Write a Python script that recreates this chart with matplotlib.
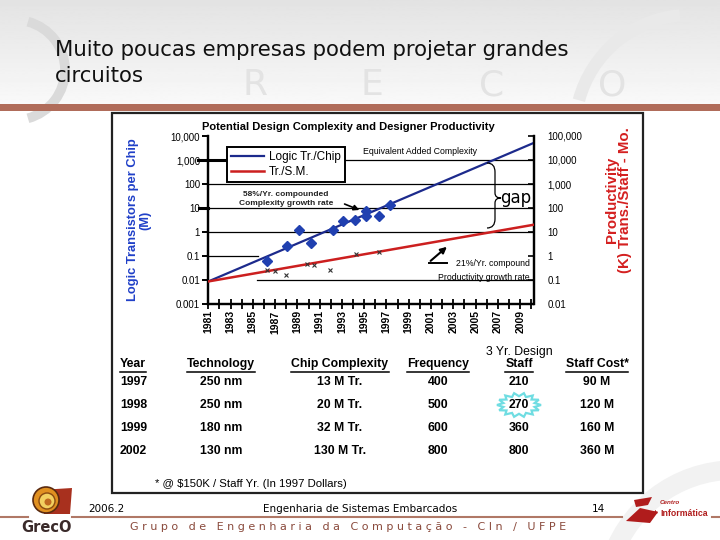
import numpy as np
import matplotlib
matplotlib.use('Agg')
import matplotlib.pyplot as plt
from matplotlib.patches import Rectangle, Polygon, PathPatch, Circle, Arc
from matplotlib.path import Path

plt.rcParams['font.family'] = ['Liberation Sans', 'DejaVu Sans']

# --- dados do grafico ---
anos_linha = [1981, 2010.2]
logic_tr_chip = [0.0087, 5100]     # M transistores por chip (eixo esquerdo)
prod_tr_sm = [0.087, 20]           # K trans./staff-mes (eixo direito)

anos_chips = [1986.3, 1988.1, 1989.1, 1990.2, 1992.2, 1993.1, 1994.2,
              1995.2, 1995.2, 1996.3, 1997.3]
tr_chips = [0.064, 0.26, 1.25, 0.35, 1.25, 2.8, 3.3, 7.2, 4.6, 4.6, 13.5]

anos_prod = [1986.3, 1987.0, 1988.0, 1989.9, 1990.5, 1991.9, 1994.25, 1996.3]
prod = [0.26, 0.24, 0.16, 0.48, 0.44, 0.27, 1.26, 1.47]

esq_ticks = [0.001, 0.01, 0.1, 1, 10, 100, 1000, 10000]
esq_labels = ['0.001', '0.01', '0.1', '1', '10', '100', '1,000', '10,000']
dir_ticks = [0.01, 0.1, 1, 10, 100, 1000, 10000, 100000]
dir_labels = ['0.01', '0.1', '1', '10', '100', '1,000', '10,000', '100,000']
anos_ticks = list(range(1981, 2011))
anos_labels = [str(a) if a % 2 == 1 else '' for a in anos_ticks]

# --- tabela ---
colunas = ['Year', 'Technology', 'Chip Complexity', 'Frequency', 'Staff', 'Staff Cost*']
tab_ano = ['1997', '1998', '1999', '2002']
tab_tec = ['250 nm', '250 nm', '180 nm', '130 nm']
tab_chip = ['13 M Tr.', '20 M Tr.', '32 M Tr.', '130 M Tr.']
tab_freq = ['400', '500', '600', '800']
tab_staff = ['210', '270', '360', '800']
tab_custo = ['90 M', '120 M', '160 M', '360 M']

AZUL = '#1c2a8c'
VERMELHO = '#cc1f1f'

fig = plt.figure(figsize=(7.2, 5.4), dpi=100)

# fundo do slide
bg = fig.add_axes([0, 0, 1, 1], zorder=0)
bg.set_xlim(0, 720)
bg.set_ylim(540, 0)
bg.axis('off')
grad = np.linspace(0.89, 0.975, 100).reshape(-1, 1)
bg.imshow(grad, extent=[0, 720, 104, 0], cmap='gray', vmin=0, vmax=1, aspect='auto')
bg.add_patch(Arc((15, 70), 100, 100, theta1=-75, theta2=75, color='#dadada', lw=7))
bg.add_patch(Arc((690, 130), 230, 230, theta1=195, theta2=265, color='#e9e9e9', lw=9))
bg.add_patch(Arc((735, 600), 260, 260, theta1=190, theta2=265, color='#f2f2f2', lw=14))
for letra, x in zip('RECO', [255, 372, 492, 612]):
    bg.text(x, 85, letra, fontsize=26, color='#e3e3e3', ha='center', va='center',
            family='DejaVu Sans')
bg.add_patch(Rectangle((0, 104), 720, 7, color='#b06c5a', lw=0))
bg.text(55, 50, 'Muito poucas empresas podem projetar grandes', fontsize=15.3,
        ha='left', va='center', family='DejaVu Sans', color='#111111')
bg.text(55, 76, 'circuitos', fontsize=15.3, ha='left', va='center',
        family='DejaVu Sans', color='#111111')

# caixa do grafico
bg.add_patch(Rectangle((112, 113), 531, 380, fc='white', ec='#222222', lw=1.6))

# rodape
for x0, x1 in [(0, 28), (72, 622), (712, 720)]:
    bg.plot([x0, x1], [517, 517], color='#b07866', lw=1.5)
bg.text(88, 509, '2006.2', fontsize=7.5, family='DejaVu Sans', va='center')
bg.text(360, 509, 'Engenharia de Sistemas Embarcados', fontsize=7.5,
        family='DejaVu Sans', ha='center', va='center')
bg.text(598, 509, '14', fontsize=7.5, family='DejaVu Sans', ha='center', va='center')
rodape = '   '.join(' '.join(p) for p in 'Grupo de Engenharia da Computação - CIn / UFPE'.split(' '))
bg.text(348, 527, rodape, fontsize=8, family='DejaVu Sans', ha='center', va='center',
        color='#8a4a3c')
# logo GrecO
bg.add_patch(Polygon([[40, 490], [72, 488], [70, 514], [44, 514]], fc='#a8301e', lw=0))
bg.add_patch(Circle((46, 500), 13, fc='#e09020', ec='#5a2a10', lw=1.2))
bg.add_patch(Circle((47, 501), 8, fc='#f2d060', ec='#8a4a10', lw=1))
bg.add_patch(Circle((48, 502), 3.5, fc='#c06a20', lw=0))
bg.text(47, 527, 'GrecO', fontsize=10.5, weight='bold', ha='center', va='center',
        color='#3a2a2a', family='DejaVu Sans Condensed')
# logo CIn
bg.add_patch(Polygon([[634, 500], [652, 497], [648, 505], [636, 507]], fc='#b01c1c', lw=0))
bg.add_patch(Polygon([[626, 521], [640, 508], [658, 512], [650, 523]], fc='#b01c1c', lw=0))
bg.text(660, 503, 'Centro', fontsize=4.5, color='#b01c1c', style='italic', weight='bold',
        va='center')
bg.text(653, 513, 'de', fontsize=3.5, color='#b01c1c', weight='bold', va='center')
bg.text(660, 513, 'Informática', fontsize=6.3, color='#b01c1c', weight='bold', va='center')

# --- grafico ---
ax = fig.add_axes([208.3 / 720, 1 - 304 / 540, 325.2 / 720, 168 / 540], zorder=2)
ax.set_yscale('log')
ax.set_ylim(0.001, 10000)
ax.set_xlim(1981, 2010.2)
ax2 = ax.twinx()
ax2.set_yscale('log')
ax2.set_ylim(0.01, 100000)

for nivel, a, b in [(1000, 0, 0.995), (100, 0, 0.995), (10, 0, 0.995), (1, 0, 0.995),
                    (0.1, 0, 0.153), (0.01, 0.15, 0.995)]:
    ax.axhline(nivel, a, b, color='black', lw=0.9, zorder=1)

l1, = ax.plot(anos_linha, logic_tr_chip, color=AZUL, lw=1.6, zorder=3, label='Logic Tr./Chip')
ax.plot(anos_chips, tr_chips, 'D', color='#2040b0', ms=5, zorder=4)
l2, = ax2.plot(anos_linha, prod_tr_sm, color=VERMELHO, lw=1.8, zorder=3, label='Tr./S.M.')
ax2.plot(anos_prod, prod, 'x', color='#333333', ms=3.5, mew=0.8, zorder=4)

for a in (ax, ax2):
    a.spines['top'].set_visible(False)
    for s in a.spines.values():
        s.set_linewidth(1.6)

ax.set_yticks(esq_ticks)
ax.set_yticklabels(esq_labels)
ax.tick_params(axis='y', which='major', direction='out', length=4, width=1.4,
               labelsize=7, pad=2)
ax.yaxis.set_minor_locator(matplotlib.ticker.NullLocator())
ax2.set_yticks(dir_ticks)
ax2.set_yticklabels(dir_labels)
ax2.tick_params(axis='y', which='major', direction='in', length=4, width=1.2,
                labelsize=7, pad=10)
ax2.yaxis.set_minor_locator(matplotlib.ticker.NullLocator())
ax.set_xticks(anos_ticks)
ax.set_xticklabels(anos_labels, rotation=90, fontsize=7.5, weight='bold')
ax.tick_params(axis='x', direction='inout', length=7, width=1.3, pad=1)

ax.set_title('Potential Design Complexity and Designer Productivity', fontsize=8,
             weight='bold', pad=4, x=0.43)
ax.set_ylabel('Logic Transistors per Chip\n(M)', color='#2040c8', fontsize=9.3,
              weight='bold', labelpad=14, linespacing=0.95)
ax2.set_ylabel('Productivity\n(K) Trans./Staff - Mo.', color='#d42020', fontsize=10.8,
               weight='bold', linespacing=0.95)
ax2.yaxis.set_label_coords(1.22, 0.62)

leg = fig.legend(handles=[l1, l2], loc='upper left',
                 bbox_to_anchor=(227 / 720, 1 - 147 / 540), borderaxespad=0,
                 fancybox=False, edgecolor='black', framealpha=1, fontsize=8.5,
                 handlelength=2.8, handletextpad=0.4, borderpad=0.35,
                 labelspacing=0.25, frameon=True)
leg.get_frame().set_linewidth(1.4)
leg.set_zorder(6)

# camada de anotacoes
ov = fig.add_axes([0, 0, 1, 1], zorder=5)
ov.set_xlim(0, 720)
ov.set_ylim(540, 0)
ov.axis('off')
ov.patch.set_alpha(0)

ov.plot([198, 227], [160, 160], color='black', lw=2.2)
ov.plot([199, 208], [208, 208], color='black', lw=2.2)
ov.text(363, 152, 'Equivalent Added Complexity', fontsize=6.3, va='center')
ov.text(286, 199, '58%/Yr. compounded\nComplexity growth rate', fontsize=6, ha='center',
        va='center', weight='bold', linespacing=1.3, color='#222222')
ov.annotate('', xy=(362, 211), xytext=(342, 203),
            arrowprops=dict(arrowstyle='-|>', color='black', lw=1.2, mutation_scale=8))
ov.annotate('', xy=(449, 245), xytext=(428.5, 262.7),
            arrowprops=dict(arrowstyle='-|>', color='black', lw=1.5, mutation_scale=9))
ov.plot([428.5, 447], [262.7, 262.7], color='black', lw=1.4)
ov.text(530, 264, '21%/Yr. compound', fontsize=6.3, ha='right', va='center')
ov.text(530, 277, 'Productivity growth rate', fontsize=6.3, ha='right', va='center')

chave = Path([(487, 163), (495, 163), (495, 172), (495, 193), (495, 198), (501, 198),
              (495, 198), (495, 203), (495, 219), (495, 228), (487, 228)],
             [Path.MOVETO, Path.CURVE3, Path.CURVE3, Path.LINETO, Path.CURVE3, Path.CURVE3,
              Path.CURVE3, Path.CURVE3, Path.LINETO, Path.CURVE3, Path.CURVE3])
ov.add_patch(PathPatch(chave, fc='none', ec='black', lw=0.9))
ov.text(500, 198, 'gap', fontsize=12, family='DejaVu Sans', va='center')

# tabela
col_x = [120, 221, 340, 438, 519, 597]
col_ha = ['left', 'center', 'center', 'center', 'center', 'center']
cab = []
for nome, x, ha in zip(colunas, col_x, col_ha):
    cab.append(ov.text(x, 364, nome, fontsize=8.8, weight='bold', ha=ha, va='center'))
ov.text(col_x[4], 352, '3 Yr. Design', fontsize=8.8, ha='center', va='center')

raios = np.tile([22, 16], 14)
ang = np.linspace(0, 2 * np.pi, len(raios), endpoint=False)
estrela = np.column_stack([col_x[4] + raios * np.cos(ang), 405 + raios * 0.55 * np.sin(ang)])
ov.add_patch(Polygon(estrela, fc='white', ec='#70dde2', lw=1.6))

linhas_y = [382, 405, 428, 451]
for i, y in enumerate(linhas_y):
    valores = [tab_ano[i], tab_tec[i], tab_chip[i], tab_freq[i], tab_staff[i], tab_custo[i]]
    for v, x, ha in zip(valores, col_x, col_ha):
        ov.text(x, y, v, fontsize=8.8, weight='bold', ha=ha, va='center')
ov.text(155, 484, '* @ $150K / Staff Yr. (In 1997 Dollars)', fontsize=8.2, va='center')

# sublinhados do cabecalho
fig.canvas.draw()
inv = ov.transData.inverted()
for t in cab:
    bb = t.get_window_extent()
    (xa, ya), (xb, yb) = inv.transform([[bb.x0, bb.y0], [bb.x1, bb.y1]])
    ov.plot([xa, xb], [ya + 1.5, ya + 1.5], color='black', lw=1.1)

fig.savefig('out.png', dpi=100)
